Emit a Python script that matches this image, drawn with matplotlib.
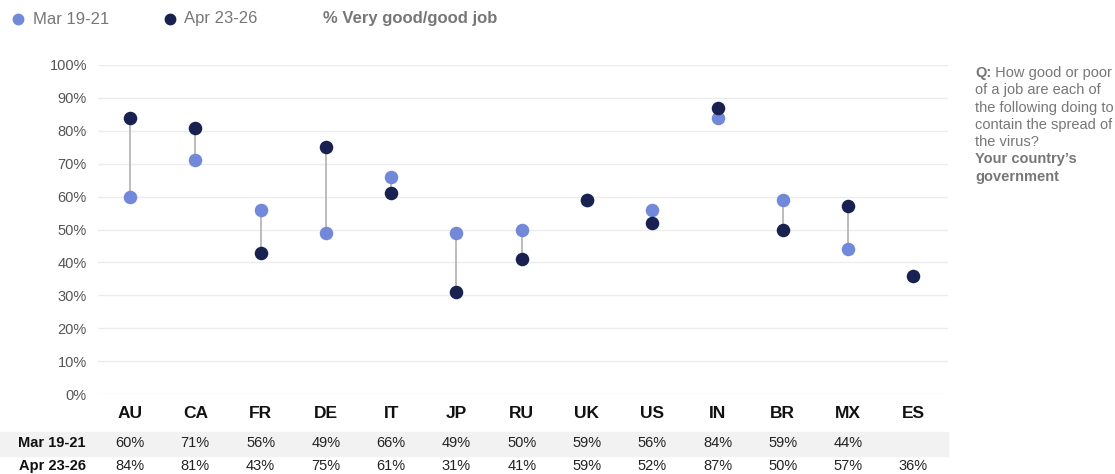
import numpy as np
import matplotlib.pyplot as plt
from matplotlib.patches import Rectangle
from matplotlib.lines import Line2D
from matplotlib.transforms import blended_transform_factory

plt.rcParams['font.family'] = ['Liberation Sans', 'DejaVu Sans']

# data
countries = ['AU', 'CA', 'FR', 'DE', 'IT', 'JP', 'RU', 'UK', 'US', 'IN', 'BR', 'MX', 'ES']
mar = [60, 71, 56, 49, 66, 49, 50, 59, 56, 84, 59, 44, np.nan]
apr = [84, 81, 43, 75, 61, 31, 41, 59, 52, 87, 50, 57, 36]
yticks = [0, 10, 20, 30, 40, 50, 60, 70, 80, 90, 100]

light = '#7288d9'
dark = '#18214f'
W, H = 1115, 474

fig = plt.figure(figsize=(W / 100, H / 100), dpi=100)
ax = fig.add_axes([98 / W, 1 - 394 / H, (948 - 98) / W, (394 - 65) / H])

x = np.arange(len(countries))
mar_a = np.array(mar, dtype=float)
apr_a = np.array(apr, dtype=float)

# connectors
for xi, m, a in zip(x, mar_a, apr_a):
    if not np.isnan(m):
        ax.plot([xi, xi], [m, a], color='#b0b0b0', lw=1.2, zorder=2)
ax.scatter(x, mar_a, s=95, color=light, zorder=3, linewidths=0)
ax.scatter(x, apr_a, s=95, color=dark, zorder=4, linewidths=0)

ax.set_xlim(-0.49, 12.53)
ax.set_ylim(0, 100)
ax.set_yticks(yticks)
ax.set_yticklabels([f'{v}%' for v in yticks], fontsize=10.5, color='#555555')
ax.set_xticks([])
ax.tick_params(axis='y', length=0, pad=8)
ax.grid(axis='y', color='#ececec', lw=1)
ax.set_axisbelow(True)
for s in ax.spines.values():
    s.set_visible(False)

# table under the chart
tr = blended_transform_factory(ax.transData, fig.transFigure)
fig.patches.append(Rectangle((0, 1 - 456 / H), 948 / W, 24 / H,
                             transform=fig.transFigure, color='#f2f2f2', zorder=-1))
for xi, c, m, a in zip(x, countries, mar_a, apr_a):
    ax.text(xi, 1 - 413 / H, c, transform=tr, ha='center', va='center',
            fontsize=12.5, fontweight='bold', color='#111111', clip_on=False)
    if not np.isnan(m):
        ax.text(xi, 1 - 443 / H, f'{m:.0f}%', transform=tr, ha='center', va='center',
                fontsize=10.5, color='#222222', clip_on=False)
    ax.text(xi, 1 - 466 / H, f'{a:.0f}%', transform=tr, ha='center', va='center',
            fontsize=10.5, color='#222222', clip_on=False)
fig.text(86 / W, 1 - 443 / H, 'Mar 19-21', ha='right', va='center',
         fontsize=10.5, fontweight='bold', color='#111111')
fig.text(86 / W, 1 - 466 / H, 'Apr 23-26', ha='right', va='center',
         fontsize=10.5, fontweight='bold', color='#111111')

# legend row
ly = 1 - 19 / H
fig.add_artist(Line2D([18 / W], [ly], marker='o', markersize=7.5, color=light,
                      transform=fig.transFigure))
fig.text(33 / W, ly, 'Mar 19-21', va='center', fontsize=12, color='#777777')
fig.add_artist(Line2D([170 / W], [ly], marker='o', markersize=7.5, color=dark,
                      transform=fig.transFigure))
fig.text(184 / W, ly, 'Apr 23-26', va='center', fontsize=12, color='#777777')
fig.text(323 / W, ly, '% Very good/good job', va='center', fontsize=12,
         fontweight='bold', color='#777777')

# question text
qc = '#777777'
step = 17.3
q = fig.text(975 / W, 1 - 73 / H, 'Q:', va='center', fontsize=10.5, fontweight='bold', color=qc)
ax.annotate(' How good or poor', xy=(1, 0), xycoords=q, va='bottom', fontsize=10.5, color=qc)
lines = ['of a job are each of', 'the following doing to', 'contain the spread of', 'the virus?']
for i, ln in enumerate(lines):
    fig.text(975 / W, 1 - (73 + step * (i + 1)) / H, ln, va='center', fontsize=10.5, color=qc)
fig.text(975 / W, 1 - (73 + step * 5) / H, "Your country\u2019s", va='center', fontsize=10.5,
         fontweight='bold', color=qc)
fig.text(975 / W, 1 - (73 + step * 6) / H, 'government', va='center', fontsize=10.5,
         fontweight='bold', color=qc)

fig.savefig('out.png', dpi=100)
